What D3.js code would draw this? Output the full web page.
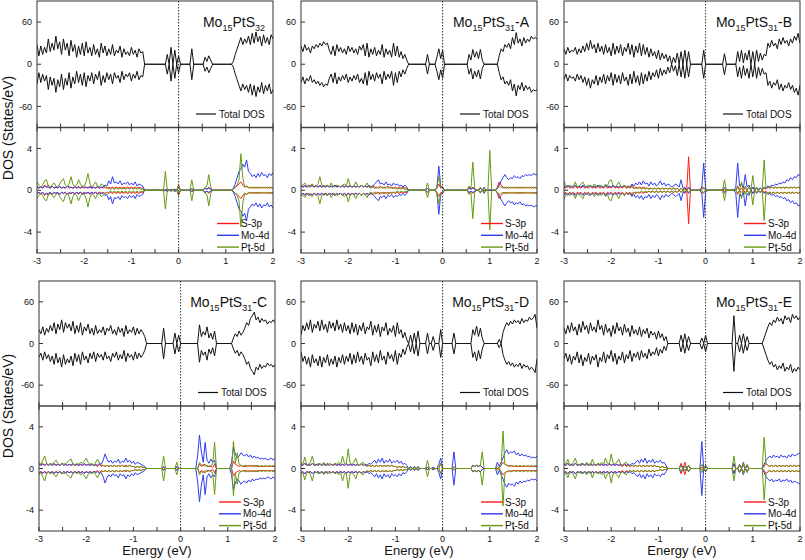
<!DOCTYPE html>
<html><head><meta charset="utf-8">
<script src="https://cdn.jsdelivr.net/npm/d3@7"></script>
<style>body{margin:0;background:#fff} svg{display:block} text{font-family:Arial,"Liberation Sans",sans-serif;fill:#111}</style>
</head><body><svg id="chart" width="805" height="560"></svg>
<script>
// energy grid (eV)
const energyStart = -3, energyStep = 0.04, energyCount = 126;
const energy = d3.range(energyCount).map(i => +(energyStart + i * energyStep).toFixed(2));
const xTicks = [-3, -2, -1, 0, 1, 2];
const xMinorTicks = [-3, -2.5, -2, -1.5, -1, -0.5, 0, 0.5, 1, 1.5, 2];
const totTicks = [60, 0, -60];
const pdosTicks = [4, 0, -4];
const legendTotal = ["Total DOS"];
const legendPdos = ["S-3p", "Mo-4d", "Pt-5d"];
const titleSuffix = ["", "-A", "-B", "-C", "-D", "-E"];
const titleSub2 = ["32", "31", "31", "31", "31", "31"];

// ---- Mo15PtS32 ----
const tot_32 = [28,12,26,14,24,16,36,18,30,20, 40,22,32,14,36,20,30,12,34,18, 28,10,26,14,30,12,32,16,24,12, 28,14,22,10,30,16,26,12,22,14, 28,12,20,16,26,10,22,14,18,12, 24,14,20,10,22,16,18,0,0,0, 0,0,0,0,0,0,0,0,0,14, 0,24,0,20,0,12,0,0,0,0, 0,0,22,0,0,0,0,0,0,10, 4,12,6,0,0,0,0,0,0,0, 0,0,0,0,4,14,22,30,38,28, 36,30,40,28,44,30,46,32,40,26, 42,30,38,28,42,36];
const s3p_32 = [.3,.2,.4,.2,.5,.3,.5,.2,.4,.2, .3,.2,.4,.2,.3,.2,.4,.2,.3,.2, .3,.2,.4,.2,.3,.2,.3,.2,.4,.2, .3,.2,.3,.2,.3,.2,.3,.2,.3,.2, .3,.2,.3,.2,.3,.2,.3,.2,.3,.2, .3,.2,.3,.2,.3,.2,.2,0,0,0, 0,0,0,0,0,0,0,0,0,.1, 0,0,0,.1,0,.5,0,0,0,0, 0,0,.1,0,0,0,0,0,0,.2, .1,.3,.1,0,0,0,0,0,0,0, 0,0,0,0,.1,.3,.4,.6,.8,.5, .3,.4,.2,.3,.2,.3,.2,.3,.2,.3, .2,.3,.2,.3,.2,.3];
const mo4d_32 = [.4,.2,.3,.2,.4,.3,.3,.2,.4,.2, .3,.2,.4,.2,.3,.2,.4,.3,.3,.2, .4,.2,.3,.2,.4,.3,.3,.2,.3,.2, .3,.2,.4,.2,.3,.3,.5,.4,.9,.6, 1.3,.7,.8,.6,.9,.5,.7,.6,.8,.5, .7,.5,.8,.4,.6,.5,.4,0,0,0, 0,0,0,0,0,0,0,0,0,.1, 0,.1,0,.1,0,.3,0,0,0,0, 0,0,.15,0,0,0,0,0,0,.2, .1,.2,.1,0,0,0,0,0,0,0, 0,0,0,0,.2,.6,1.2,1.8,2.0,2.5, 2.2,2.9,1.8,1.6,1.3,1.5,1.2,1.6,1.3,1.7, 1.4,1.5,1.2,1.6,1.4,1.7];
const pt5d_32 = [.8,.5,.3,.5,.9,1.0,.4,.3,.5,.7, .4,.3,.6,.9,1.1,.5,.3,.6,1.3,.6, .3,.5,1.0,.6,.3,.4,.8,1.6,.7,.3, .5,.8,.4,.3,.6,.5,.3,.2,.2,.1, .2,.1,.2,.1,.2,.1,.2,.1,.2,.1, .2,.1,.2,.1,.2,.1,.1,0,0,0, 0,0,0,0,0,0,0,0,1.8,0, 0,0,0,0,0,.4,0,0,0,0, 0,0,1.0,0,0,0,0,0,0,.3, .4,1.5,.3,0,0,0,0,0,0,0, 0,0,0,0,.1,.3,.5,1.0,3.5,1.2, .3,.4,.3,.2,.3,.2,.3,.2,.3,.2, .3,.2,.3,.2,.3,.2];

// ---- Mo15PtS31-A ----
const tot_A = [26,18,28,20,24,16,26,22,28,24, 30,26,32,28,30,20,14,26,12,28, 18,24,16,22,14,26,18,24,16,22, 14,26,20,28,12,30,10,22,14,24, 12,20,14,28,10,22,14,20,10,30, 12,26,10,18,8,14,6,0,0,0, 0,0,0,0,0,0,0,14,0,0, 0,0,10,22,8,20,0,0,0,0, 0,0,0,0,0,0,0,0,0,14, 6,21,10,18,8,21,6,0,0,0, 0,0,0,0,0,12,22,18,28,24, 30,22,38,28,45,30,36,26,38,30, 36,32,40,36,38,36];
const s3p_A = [.4,.3,.5,.3,.4,.3,.5,.3,.4,.3, .5,.3,.4,.3,.5,.3,.4,.3,.5,.3, .4,.3,.5,.3,.4,.3,.5,.3,.4,.3, .4,.3,.5,.3,.4,.3,.4,.3,.4,.3, .3,.2,.4,.2,.3,.2,.4,.2,.3,.2, .3,.2,.3,.2,.3,.2,.2,0,0,0, 0,0,0,0,0,0,0,.2,0,0, 0,0,.2,.6,.2,.3,0,0,0,0, 0,0,0,0,0,0,0,0,0,.3, .1,.3,.1,0,0,.2,0,0,0,0, 0,0,0,0,.3,.8,.5,.3,.2,.3, .2,.3,.2,.3,.2,.3,.2,.3,.2,.3, .2,.3,.2,.3,.2,.3];
const mo4d_A = [.5,.3,.4,.3,.5,.4,.4,.3,.5,.3, .4,.3,.5,.3,.4,.3,.4,.3,.5,.3, .4,.3,.4,.3,.5,.3,.4,.3,.4,.3, .4,.3,.5,.3,.4,.3,.5,.3,.4,.6, .8,1.0,.6,.7,.5,.8,.5,.6,.4,.7, .5,.6,.4,.5,.3,.5,.3,0,0,0, 0,0,0,0,0,0,0,.2,0,0, 0,0,.3,2.3,.4,.3,0,0,0,0, 0,0,0,0,0,0,0,0,0,.2, .1,.2,.1,0,0,.2,0,.3,0,0, 0,0,0,0,.2,.5,.9,1.2,1.5,1.2, 1.0,1.2,1.1,1.4,1.2,1.3,1.1,1.4,1.3,1.5, 1.4,1.5,1.4,1.6,1.5,1.5];
const pt5d_A = [.4,.5,.7,.4,.3,.5,.6,.3,.4,.6, 1.3,.5,.3,.4,.5,.3,.7,.4,.3,.5, .4,.3,.5,.6,.4,1.1,.5,.3,.4,.8, .4,.3,.5,.3,.4,.7,.3,.2,.3,.2, .2,.3,.2,.3,.2,.3,.2,.3,.2,.2, .2,.1,.2,.1,.2,.1,.1,0,0,0, 0,0,0,0,0,0,0,.7,0,0, 0,0,.3,1.3,.3,.2,0,0,0,0, 0,0,0,0,0,0,0,0,0,.4, .2,2.7,.2,0,0,.3,0,.2,0,0, 3.8,0,0,0,.2,.4,.3,.2,.3,.2, .3,.2,.3,.2,.3,.2,.3,.2,.3,.2, .3,.2,.3,.2,.3,.2];

// ---- Mo15PtS31-B ----
const tot_B = [22,14,24,16,20,18,24,14,22,16, 26,18,30,20,34,22,28,16,30,18, 26,14,28,16,24,12,30,14,26,16, 28,12,24,18,30,14,28,10,26,16, 30,12,28,14,24,10,22,12,18,8, 20,6,16,8,14,4,12,0,10,2, 16,0,18,0,20,0,18,0,0,0, 0,0,0,0,20,0,0,0,0,0, 0,0,0,0,0,15,0,0,0,0, 0,0,18,4,20,2,16,6,20,0, 18,0,20,4,16,6,14,12,30,24, 34,26,30,22,36,28,38,30,34,26, 36,30,40,34,44,30];
const s3p_B = [.3,.2,.4,.2,.3,.2,.4,.2,.3,.2, .4,.2,.3,.2,.4,.2,.3,.2,.4,.2, .3,.2,.4,.2,.3,.2,.4,.2,.3,.2, .3,.2,.4,.2,.3,.2,.5,.2,.3,.2, .3,.2,.3,.2,.2,.1,.2,.1,.2,.1, .2,.1,.2,.1,.2,.1,.2,.1,.2,.1, .2,0,.2,0,.3,0,3.2,0,0,0, 0,0,0,.3,.2,0,0,0,0,0, 0,0,0,0,0,.1,0,0,0,0, 0,0,.4,0,.2,0,.2,0,.3,0, .3,0,.2,0,.2,0,.2,.1,.3,.2, .3,.2,.3,.2,.3,.2,.3,.2,.3,.2, .3,.2,.3,.2,.3,.2];
const mo4d_B = [.4,.3,.5,.3,.4,.3,.5,.3,.4,.3, .5,.3,.4,.3,.5,.3,.4,.3,.5,.3, .4,.3,.5,.3,.4,.3,.5,.3,.4,.3, .4,.3,.5,.3,.4,.3,.6,.4,.7,.5, .8,.5,.9,.6,.7,.4,.8,.5,.7,.4, .6,.9,.5,.7,.4,.6,.5,.3,.4,.6, .5,.3,1.0,.2,.2,0,.3,0,0,0, 0,0,0,.3,2.6,.2,0,0,0,0, 0,0,0,0,0,.3,0,0,0,0, 0,.3,2.6,.4,.6,.2,1.5,.3,.5,0, .3,0,.3,.1,.2,.1,.3,.2,.4,.3, .5,.4,.6,.5,.7,.6,.8,.7,1.0,.9, 1.2,1.0,1.3,1.2,1.5,1.4];
const pt5d_B = [.9,.4,.3,.5,.3,.4,.8,.3,.4,.6, .8,.4,.3,.5,.4,.3,.6,.4,.3,.5, .4,.3,.6,.4,.9,1.0,.4,.3,.5,.8, .4,.3,.5,.3,.4,.3,.3,.2,.2,.2, .2,.1,.2,.1,.2,.1,.2,.1,.2,.1, .2,.1,.2,.1,.2,.1,.2,.1,.2,.1, .2,0,.2,0,.1,0,.2,0,0,0, 0,0,0,0,.3,0,0,0,0,0, 0,0,0,0,0,1.0,0,0,0,0, 0,0,.3,0,.8,0,.4,0,.3,0, 1.4,0,.3,0,.2,0,2.9,.2,.3,.2, .3,.2,.3,.2,.3,.2,.3,.2,.3,.2, .3,.2,.3,.2,.3,.2];

// ---- Mo15PtS31-C ----
const tot_C = [20,14,24,12,22,16,26,18,30,14, 28,20,34,16,30,22,28,18,32,14, 26,16,30,12,24,18,28,14,22,12, 26,14,20,16,24,12,22,18,26,14, 20,12,24,16,22,10,26,14,20,16, 24,12,22,14,20,16,10,0,0,0, 0,0,0,0,0,0,22,0,0,0, 0,0,15,0,12,0,0,0,0,0, 0,0,0,0,0,27,10,17,12,24, 8,15,6,18,0,0,0,0,0,0, 0,0,0,8,14,10,18,12,16,22, 30,26,36,40,45,34,38,30,36,32, 34,28,32,30,34,30];
const s3p_C = [.4,.3,.5,.3,.4,.3,.5,.3,.4,.3, .4,.3,.5,.3,.4,.3,.4,.3,.4,.3, .4,.3,.4,.3,.4,.3,.4,.3,.4,.3, .3,.2,.4,.2,.3,.2,.3,.2,.3,.2, .3,.2,.3,.2,.3,.2,.3,.2,.3,.2, .2,.1,.2,.1,.2,.1,.1,0,0,0, 0,0,0,0,0,0,.1,0,0,0, 0,0,0,.1,0,0,0,0,0,0, 0,0,0,0,0,.4,.2,.3,.4,.2, .2,.2,.1,.4,0,0,0,0,0,0, 0,0,0,.7,.4,.3,.2,.3,.2,.2, .2,.3,.2,.3,.2,.3,.2,.2,.2,.2, .2,.2,.2,.2,.2,.2];
const mo4d_C = [.5,.3,.4,.3,.5,.3,.4,.3,.5,.3, .4,.3,.5,.3,.4,.3,.4,.3,.5,.3, .4,.3,.4,.3,.5,.3,.4,.3,.4,.3, .4,.3,.5,.4,.8,1.4,.9,.6,.8,.5, .7,.6,.9,.5,.7,.6,1.0,.6,.8,.5, .7,.4,.6,.5,.4,.3,.2,0,0,0, 0,0,0,0,0,0,.2,0,0,0, 0,0,0,.2,0,0,0,0,0,0, 0,0,0,0,1.2,3.2,1.6,.6,2.5,.8, .5,.9,.6,.8,0,0,0,0,0,0, 0,0,.6,2.0,1.4,1.0,1.2,1.5,1.3,1.2, 1.4,1.1,1.3,1.0,1.2,1.0,1.1,.9,1.0,.9, 1.0,.8,.9,1.0,.8,1.0];
const pt5d_C = [.6,.4,.8,1.2,.5,.3,.5,.4,.6,.8, .5,.3,.4,.5,.4,.6,.8,.9,.4,.3, .5,.4,.6,.5,.7,1.0,.6,.4,.5,.3, .6,.9,.5,.3,.3,.2,.3,.2,.3,.2, .3,.2,.3,.2,.3,.2,.2,.2,.3,.2, .2,.1,.2,.1,.2,.1,.1,0,0,0, 0,0,0,0,0,0,1.2,0,0,0, 0,0,0,.6,0,0,0,0,0,0, 0,0,0,0,0,.6,.3,.4,.2,.3, .2,.3,.4,2.5,0,0,0,0,0,0, 0,0,0,2.6,.5,1.5,.4,.3,.2,.3, .3,.2,.3,.2,.3,.2,.3,.2,.3,.2, .3,.2,.3,.2,.3,.2];

// ---- Mo15PtS31-D ----
const tot_D = [12,26,18,30,20,34,16,28,22,32, 18,34,20,28,16,32,22,30,18,34, 20,28,16,30,18,26,14,30,16,28, 12,26,18,30,14,24,20,32,12,26, 16,28,10,24,18,30,12,22,16,26, 10,30,14,20,8,16,6,0,12,0, 15,0,18,0,0,0,0,15,0,0, 10,0,0,0,20,0,0,0,0,0, 0,15,0,0,0,0,0,0,0,0, 0,20,12,25,10,22,8,0,0,0, 0,0,0,0,0,6,0,16,24,30, 26,32,28,34,30,33,28,36,30,34, 32,38,34,37,42,22];
const s3p_D = [.4,.3,.5,.3,.4,.3,.5,.3,.4,.3, .4,.3,.5,.3,.4,.3,.4,.3,.4,.3, .4,.3,.4,.3,.4,.3,.4,.3,.4,.3, .4,.3,.4,.3,.4,.3,.3,.2,.3,.2, .3,.2,.3,.2,.3,.2,.3,.2,.3,.2, .2,.1,.2,.1,.2,.1,.1,0,.1,0, .1,0,.1,0,0,0,0,.1,0,0, .1,0,0,0,.5,0,0,0,0,0, 0,.1,0,0,0,0,0,0,0,0, 0,.3,.2,.3,.2,.3,.1,0,0,0, 0,0,0,0,0,.1,.3,.6,.4,.3, .2,.3,.2,.2,.2,.2,.2,.2,.2,.2, .2,.2,.2,.2,.2,.2];
const mo4d_D = [.4,.3,.5,.3,.4,.3,.5,.3,.4,.3, .5,.3,.4,.3,.5,.3,.4,.3,.5,.3, .4,.3,.4,.3,.5,.3,.4,.3,.4,.3, .4,.3,.5,.3,.4,.3,.5,.4,.6,.8, .5,.9,.6,1.0,.5,.8,.6,.9,.5,.7, .6,.8,.5,.7,.4,.5,.3,0,.2,0, .2,0,.2,0,0,0,0,.1,0,0, .1,0,0,.4,1.0,0,0,0,0,0, 0,1.6,0,0,0,0,0,0,0,0, 0,.3,.2,.3,.2,.3,.1,0,0,0, 0,0,0,0,.6,.2,.6,1.0,1.5,1.8, 1.4,1.6,1.5,1.7,1.3,1.5,1.2,1.4,1.2,1.3, 1.1,1.2,1.0,1.1,1.0,1.2];
const pt5d_D = [.6,.4,1.1,.4,.3,.6,1.2,.4,.3,.5, .4,.3,.6,.4,.3,.5,.4,.3,.5,.4, .6,.4,1.2,.5,.4,1.9,.5,.4,.6,1.0, .4,.3,.5,.6,.3,.2,.3,.2,.3,.2, .3,.2,.3,.2,.3,.2,.3,.2,.3,.2, .2,.1,.2,.1,.2,.1,.1,0,.1,0, .1,0,.1,0,0,0,0,.8,0,0, 0,0,0,0,.5,0,0,0,0,0, 0,.2,0,0,0,0,0,0,0,0, 0,.3,.2,.3,.2,.3,1.6,0,0,0, 0,0,0,0,.2,0,.3,3.6,.4,.3, .3,.2,.3,.2,.3,.2,.3,.2,.3,.2, .3,.2,.3,.2,.3,.2];

// ---- Mo15PtS31-E ----
const tot_E = [22,14,26,16,30,18,24,12,28,16, 32,20,26,14,30,18,24,16,34,20, 26,12,28,16,22,10,26,14,30,18, 24,12,28,16,22,10,26,14,20,12, 24,10,20,14,22,8,18,12,16,6, 18,8,14,4,10,0,0,0,0,0, 0,0,12,0,14,0,10,0,0,0, 0,0,0,8,0,12,0,0,0,0, 0,0,0,0,0,0,0,0,0,0, 40,0,0,12,0,14,0,10,0,0, 0,0,0,0,0,0,8,16,24,30, 26,34,30,38,32,36,28,40,34,38, 30,42,36,40,34,38];
const s3p_E = [.4,.3,.5,.3,.4,.3,.5,.3,.4,.3, .4,.3,.5,.3,.4,.3,.4,.3,.4,.3, .4,.3,.4,.3,.4,.3,.4,.3,.4,.3, .3,.2,.4,.2,.3,.2,.3,.2,.3,.2, .3,.2,.3,.2,.3,.2,.3,.2,.3,.2, .2,.1,.2,.1,.1,0,0,0,0,0, 0,0,.5,0,.6,0,.3,0,0,0, 0,0,0,.1,0,.2,0,0,0,0, 0,0,0,0,0,0,0,0,0,0, .4,0,0,.3,0,.3,0,.2,0,0, 0,0,0,0,0,0,.2,.5,.3,.2, .3,.2,.3,.2,.3,.2,.3,.2,.3,.2, .3,.2,.3,.2,.3,.2];
const mo4d_E = [.4,.3,.5,.3,.4,.3,.5,.3,.4,.3, .5,.3,.4,.3,.5,.3,.4,.3,.5,.3, .4,.3,.4,.3,.5,.3,.4,.3,.4,.3, .4,.3,.5,.3,.4,.3,.5,.4,.6,.8, .5,.9,.6,1.0,.5,.8,.6,.9,.5,.7, .6,.8,.5,.6,.3,0,0,0,0,0, 0,0,.3,0,.2,0,.3,0,0,0, 0,0,0,2.6,0,.3,0,0,0,0, 0,0,0,0,0,0,0,0,0,0, .5,0,0,.4,0,.6,0,.3,0,0, 0,0,0,0,0,0,.4,.8,1.0,1.2, 1.0,1.3,1.1,1.2,1.0,1.3,1.1,1.2,1.0,1.3, 1.1,1.4,1.2,1.3,1.4,1.5];
const pt5d_E = [.6,.4,.9,.4,.3,.6,1.0,.4,.3,.5, .4,.3,.6,.4,.3,.9,.4,.3,.5,.4, .6,.4,1.0,.5,.4,1.4,.5,.4,.6,.9, .4,.3,.5,.6,.3,.2,.3,.2,.3,.2, .3,.2,.3,.2,.3,.2,.3,.2,.3,.2, .2,.1,.2,.1,.1,0,0,0,0,0, 0,0,.3,0,.2,0,.3,0,0,0, 0,0,0,.4,0,.3,0,0,0,0, 0,0,0,0,0,0,0,0,0,0, 1.2,0,0,.4,0,.5,0,.4,0,0, 0,0,0,0,0,0,3.0,.5,.3,.2, .3,.2,.3,.2,.3,.2,.3,.2,.3,.2, .3,.2,.3,.2,.3,.2];

const totalSeries = [tot_32, tot_A, tot_B, tot_C, tot_D, tot_E];
const s3pSeries = [s3p_32, s3p_A, s3p_B, s3p_C, s3p_D, s3p_E];
const mo4dSeries = [mo4d_32, mo4d_A, mo4d_B, mo4d_C, mo4d_D, mo4d_E];
const pt5dSeries = [pt5d_32, pt5d_A, pt5d_B, pt5d_C, pt5d_D, pt5d_E];
const pdosColors = ["#ff1a1a", "#2e3cf0", "#669a14"];

// ---- layout ----
const svg = d3.select("#chart");
const panelW = 236;
const colX = [[37, 301, 564], [39, 301, 564]];
const rows = [{top: 1, mid: 127.5, bot: 253}, {top: 281, mid: 406, bot: 531}];

function drawPanel(p) {
  const r = Math.floor(p / 3), c = p % 3;
  const x0 = colX[r][c], row = rows[r];
  const g = svg.append("g");
  const x = d3.scaleLinear().domain([-3, 2]).range([x0, x0 + panelW]);
  const yT = d3.scaleLinear().domain([-90, 90]).range([row.mid, row.top]);
  const yP = d3.scaleLinear().domain([-6, 6]).range([row.bot, row.mid]);

  const cid = "clip" + p;
  const defs = g.append("defs");
  defs.append("clipPath").attr("id", cid + "u").append("rect")
    .attr("x", x0).attr("y", row.top).attr("width", panelW).attr("height", row.mid - row.top);
  defs.append("clipPath").attr("id", cid + "l").append("rect")
    .attr("x", x0).attr("y", row.mid).attr("width", panelW).attr("height", row.bot - row.mid);

  // total DOS (spin up / spin down)
  const lineT = d3.line().x((d, i) => x(energy[i])).y(d => yT(d));
  const gu = g.append("g").attr("clip-path", `url(#${cid}u)`);
  const tot = totalSeries[p];
  [tot, tot.map(v => -v)].forEach(s => {
    gu.append("path").attr("d", lineT(s)).attr("fill", "none")
      .attr("stroke", "#111").attr("stroke-width", 1).attr("stroke-linejoin", "round");
  });

  // PDOS
  const lineP = d3.line().x((d, i) => x(energy[i])).y(d => yP(d));
  const gl = g.append("g").attr("clip-path", `url(#${cid}l)`);
  [s3pSeries[p], mo4dSeries[p], pt5dSeries[p]].forEach((s, k) => {
    [s, s.map(v => -v)].forEach(ss => {
      gl.append("path").attr("d", lineP(ss)).attr("fill", "none")
        .attr("stroke", pdosColors[k]).attr("stroke-width", 1).attr("stroke-linejoin", "round");
    });
  });

  // frames
  g.append("rect").attr("x", x0).attr("y", row.top).attr("width", panelW).attr("height", row.bot - row.top)
    .attr("fill", "none").attr("stroke", "#333").attr("stroke-width", 1);
  g.append("line").attr("x1", x0).attr("x2", x0 + panelW).attr("y1", row.mid).attr("y2", row.mid)
    .attr("stroke", "#444").attr("stroke-width", 1.6);

  // zero line
  g.append("line").attr("x1", x(0)).attr("x2", x(0)).attr("y1", row.top).attr("y2", row.bot)
    .attr("stroke", "#333").attr("stroke-width", 1).attr("stroke-dasharray", "1.5,1.5");

  // x ticks (inward)
  xMinorTicks.forEach(t => {
    const xx = x(t);
    g.append("line").attr("x1", xx).attr("x2", xx).attr("y1", row.mid).attr("y2", row.mid - 4).attr("stroke", "#333");
    g.append("line").attr("x1", xx).attr("x2", xx).attr("y1", row.mid).attr("y2", row.mid + 4).attr("stroke", "#333");
    g.append("line").attr("x1", xx).attr("x2", xx).attr("y1", row.bot).attr("y2", row.bot - 4).attr("stroke", "#333");
  });
  xTicks.forEach(t => {
    g.append("text").attr("x", x(t)).attr("y", row.bot + 11).attr("text-anchor", "middle")
      .attr("font-size", 9).text(t);
  });

  // y ticks
  totTicks.forEach(t => {
    g.append("line").attr("x1", x0).attr("x2", x0 + 4).attr("y1", yT(t)).attr("y2", yT(t)).attr("stroke", "#333");
    g.append("text").attr("x", x0 - 5).attr("y", yT(t)).attr("dy", "0.35em").attr("text-anchor", "end")
      .attr("font-size", 9).text(t);
  });
  pdosTicks.forEach(t => {
    g.append("line").attr("x1", x0).attr("x2", x0 + 4).attr("y1", yP(t)).attr("y2", yP(t)).attr("stroke", "#333");
    g.append("text").attr("x", x0 - 5).attr("y", yP(t)).attr("dy", "0.35em").attr("text-anchor", "end")
      .attr("font-size", 9).text(t);
  });

  // title
  const tt = g.append("text").attr("x", x0 + panelW - 8).attr("y", row.top + 26)
    .attr("text-anchor", "end").attr("font-size", 14);
  tt.append("tspan").text("Mo");
  tt.append("tspan").attr("font-size", 9).attr("dy", 4).text("15");
  tt.append("tspan").attr("dy", -4).text("PtS");
  tt.append("tspan").attr("font-size", 9).attr("dy", 4).text(titleSub2[p]);
  if (titleSuffix[p]) tt.append("tspan").attr("dy", -4).text(titleSuffix[p]);

  // legends
  const ly = row.mid - 13.5;
  g.append("line").attr("x1", x0 + 159).attr("x2", x0 + 179).attr("y1", ly).attr("y2", ly)
    .attr("stroke", "#111").attr("stroke-width", 1.2);
  g.append("text").attr("x", x0 + 182).attr("y", ly).attr("dy", "0.35em").attr("font-size", 10).text(legendTotal[0]);
  legendPdos.forEach((name, k) => {
    const yy = row.mid + 96 + k * 11.8;
    g.append("line").attr("x1", x0 + 180).attr("x2", x0 + 202).attr("y1", yy).attr("y2", yy)
      .attr("stroke", pdosColors[k]).attr("stroke-width", 1.4);
    g.append("text").attr("x", x0 + 204).attr("y", yy).attr("dy", "0.35em").attr("font-size", 10).text(name);
  });

  if (r === 1) {
    g.append("text").attr("x", x0 + panelW / 2).attr("y", 555).attr("text-anchor", "middle")
      .attr("font-size", 13).text("Energy (eV)");
  }
}

d3.range(6).forEach(drawPanel);

// y axis labels
[128, 406].forEach(cy => {
  svg.append("text").attr("transform", `translate(13,${cy}) rotate(-90)`).attr("text-anchor", "middle")
    .attr("font-size", 14).text("DOS (States/eV)");
});
</script>
</body></html>
